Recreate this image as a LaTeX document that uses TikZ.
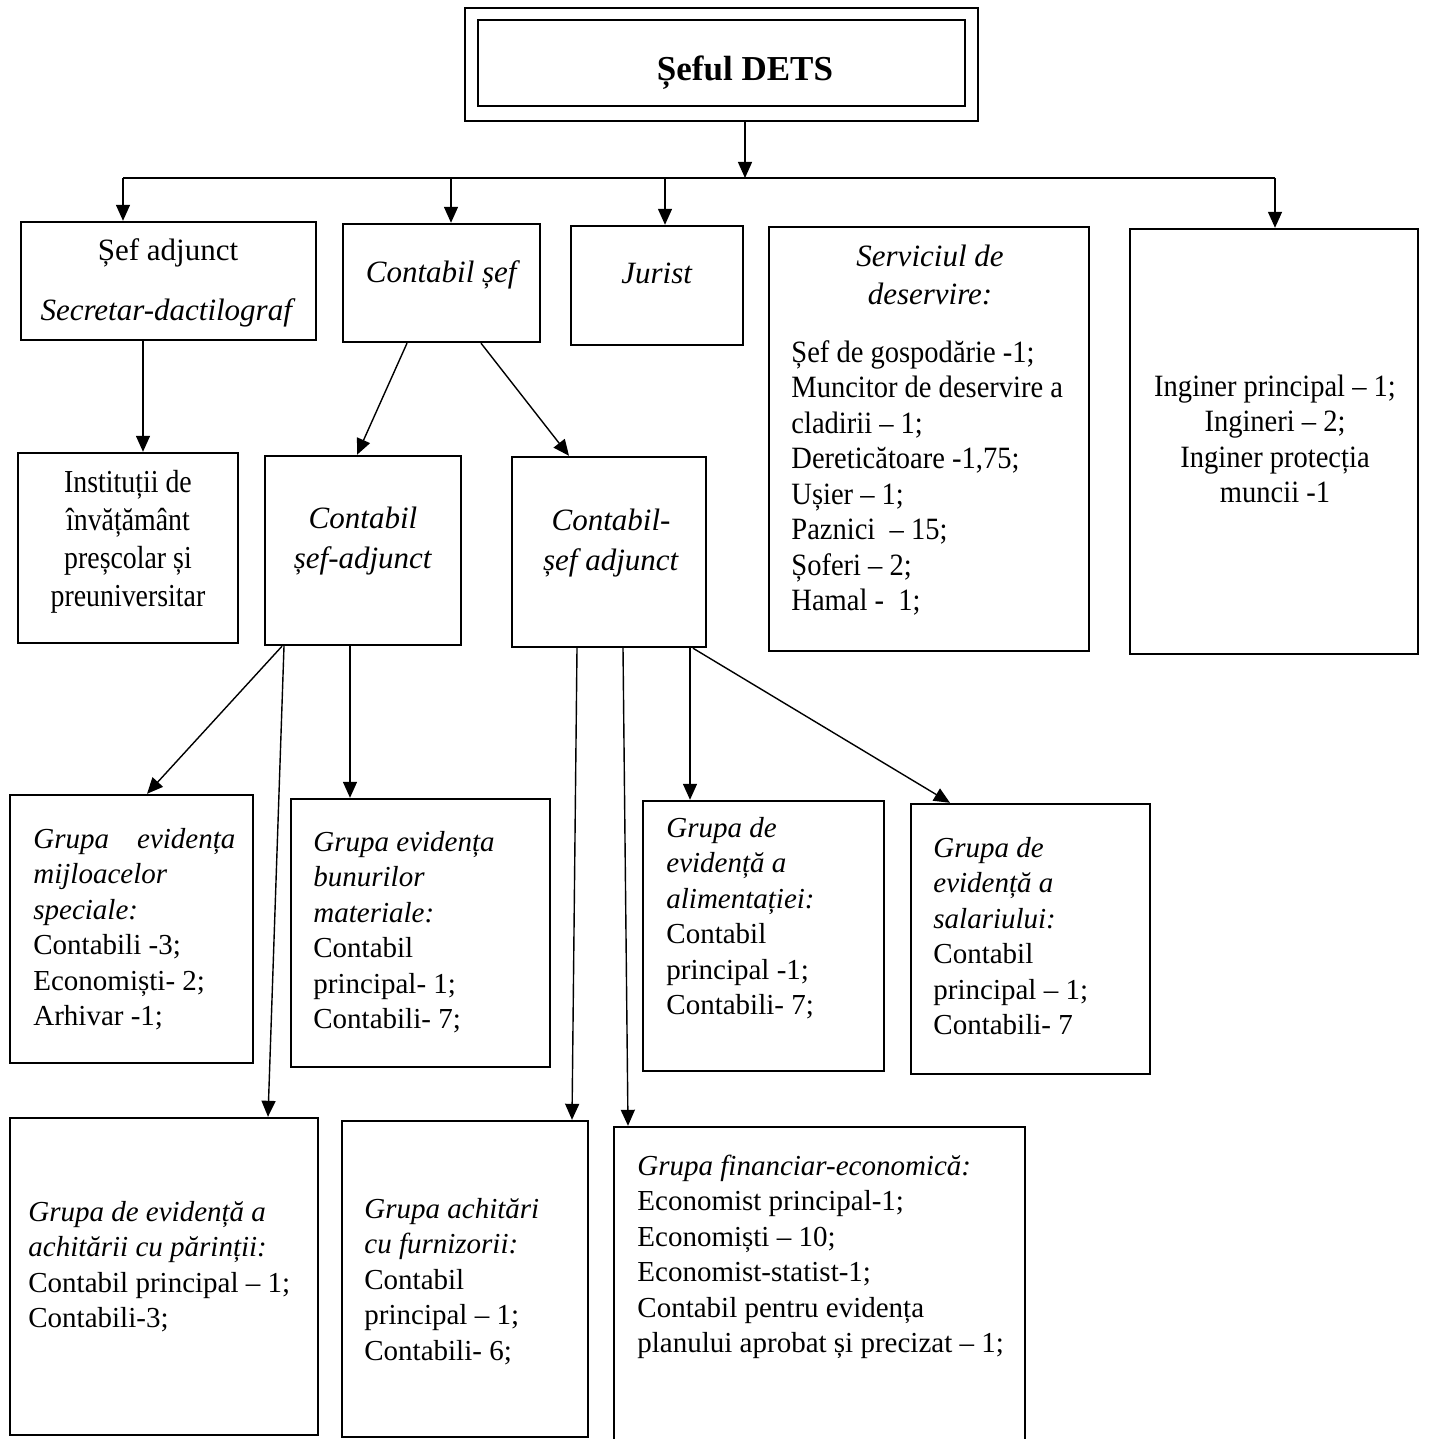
\documentclass[tikz,border=0pt]{standalone}
\usepackage{fontspec}
\setmainfont{Liberation Serif}
\newfontfamily\condf[FakeStretch=0.92]{Liberation Serif}
\newfontfamily\condg[FakeStretch=0.87]{Liberation Serif}
\usetikzlibrary{fit,arrows.meta}
\begin{document}
\begin{tikzpicture}[x=0.5pt,y=-0.5pt,
 box/.style={draw, line width=1.2pt, inner sep=0pt},
 arr/.style={line width=0.7pt, -{Triangle[length=8pt,width=7pt]}},
 ln/.style={line width=0.7pt},
 lt/.style={inner sep=0pt, anchor=north west, align=left, font=\fontsize{14.5}{17.75}\selectfont},
 ltc/.style={inner sep=0pt, anchor=north west, align=left, font=\condf\fontsize{15.5}{17.75}\selectfont},
 ctc/.style={inner sep=0pt, anchor=north, align=center, font=\condf\fontsize{15.5}{17.75}\selectfont},
 ctg/.style={inner sep=0pt, anchor=north, align=center, font=\condg\fontsize{16}{19}\selectfont},
 ctw/.style={inner sep=0pt, anchor=north, align=center, font=\fontsize{15.5}{19}\selectfont},
 cti/.style={inner sep=0pt, anchor=north, align=center, font=\fontsize{15.5}{20}\selectfont},
 one/.style={inner sep=0pt, anchor=base, font=\fontsize{15.5}{18}\selectfont},
]
\useasboundingbox (0,0) rectangle (1429,1439);
\fill[white] (0,0) rectangle (1429,1439);

% boxes
\node[box, fit={(465,8) (978,121)}] (dets) {};
\node[box, fit={(478,20) (965,106)}] (detsin) {};
\node[box, fit={(21,222) (316,340)}] (sefadj) {};
\node[box, fit={(343,224) (540,342)}] (cset) {};
\node[box, fit={(571,226) (743,345)}] (jurist) {};
\node[box, fit={(769,227) (1089,651)}] (serv) {};
\node[box, fit={(1130,229) (1418,654)}] (ing) {};
\node[box, fit={(18,453) (238,643)}] (inst) {};
\node[box, fit={(265,456) (461,645)}] (csa) {};
\node[box, fit={(512,457) (706,647)}] (csb) {};
\node[box, fit={(10,795) (253,1063)}] (gmij) {};
\node[box, fit={(291,799) (550,1067)}] (gbun) {};
\node[box, fit={(643,801) (884,1071)}] (gali) {};
\node[box, fit={(911,804) (1150,1074)}] (gsal) {};
\node[box, fit={(10,1118) (318,1435)}] (gpar) {};
\node[box, fit={(342,1121) (588,1437)}] (gfur) {};
\node[box, fit={(614,1127) (1025,1460)}] (gfin) {};

% texts
\node[inner sep=0pt, anchor=base, font=\fontsize{17.5}{20}\selectfont\bfseries] (tdets) at (745,81) {Șeful DETS};
\node[one] (tsef1) at (168,261) {Șef adjunct};
\node[one] (tsef2) at (168,320) {\textit{Secretar-dactilograf}};
\node[one] (tcset) at (443,282) {\textit{Contabil șef}};
\node[one] (tjur) at (657,283) {\textit{Jurist}};
\node[ctw] (tservh) at (930,239) {\strut\textit{Serviciul de}\\ \textit{deservire:}};
\node[ltc] (tserv) at (791,337) {\strut Șef de gospodărie -1;\\ Muncitor de deservire a\\ cladirii – 1;\\ Deretică­toare -1,75;\\ Ușier – 1;\\ Paznici \ – 15;\\ Șoferi – 2;\\ Hamal - \ 1;};
\node[ctc] (ting) at (1275,371) {\strut Inginer principal – 1;\\ Ingineri – 2;\\ Inginer protecția\\ muncii -1};
\node[ctg] (tinst) at (128,465) {\strut Instituții de\\ învățământ\\ preșcolar și\\ preuniversitar};
\node[cti] (tcsa) at (363,500) {\strut\textit{Contabil}\\ \textit{șef-adjunct}};
\node[cti] (tcsb) at (611,502) {\strut\textit{Contabil-}\\ \textit{șef adjunct}};

\node[lt] (tmij) at (33,823) {\strut\hbox to 101pt{\textit{Grupa}\hfill\textit{evidența}}\\ \textit{mijloacelor}\\ \textit{speciale:}\\ Contabili -3;\\ Economiști- 2;\\ Arhivar -1;};
\node[lt] (tbun) at (313,826) {\strut\textit{Grupa evidența}\\ \textit{bunurilor}\\ \textit{materiale:}\\ Contabil\\ principal- 1;\\ Contabili- 7;};
\node[lt] (tali) at (666,812) {\strut\textit{Grupa de}\\ \textit{evidență a}\\ \textit{alimentației:}\\ Contabil\\ principal -1;\\ Contabili- 7;};
\node[lt] (tsal) at (933,832) {\strut\textit{Grupa de}\\ \textit{evidență a}\\ \textit{salariului:}\\ Contabil\\ principal – 1;\\ Contabili- 7};
\node[lt] (tpar) at (28,1196) {\strut\textit{Grupa de evidență a}\\ \textit{achitării cu părinții:}\\ Contabil principal – 1;\\ Contabili-3;};
\node[lt] (tfur) at (364,1193) {\strut\textit{Grupa achitări}\\ \textit{cu furnizorii:}\\ Contabil\\ principal – 1;\\ Contabili- 6;};
\node[lt] (tfin) at (637,1150) {\strut\textit{Grupa financiar-economică:}\\ Economist principal-1;\\ Economiști – 10;\\ Economist-statist-1;\\ Contabil pentru evidența\\ planului aprobat și precizat – 1;};

% connectors
\coordinate (busL) at (123,178);
\coordinate (busB) at (451,178);
\coordinate (busJ) at (665,178);
\coordinate (busD) at (745,178);
\coordinate (busR) at (1275,178);
\draw[ln] (busL) -- (busR);
\draw[arr] (745,0 |- dets.south) -- (busD);
\draw[arr] (busL) -- (busL |- sefadj.north);
\draw[arr] (busB) -- (busB |- cset.north);
\draw[arr] (busJ) -- (busJ |- jurist.north);
\draw[arr] (busR) -- (busR |- ing.north);
\draw[arr] (143,0 |- sefadj.south) -- (143,0 |- inst.north);
\draw[arr] (407,0 |- cset.south) -- (357,0 |- csa.north);
\draw[arr] (481,0 |- cset.south) -- (569,0 |- csb.north);
\draw[arr] (282,0 |- csa.south) -- (147,0 |- gmij.north);
\draw[arr] (284,0 |- csa.south) -- (268,0 |- gpar.north);
\draw[arr] (350,0 |- csa.south) -- (350,0 |- gbun.north);
\draw[arr] (577,0 |- csb.south) -- (572,0 |- gfur.north);
\draw[arr] (623,0 |- csb.south) -- (628,0 |- gfin.north);
\draw[arr] (690,0 |- csb.south) -- (690,0 |- gali.north);
\draw[arr] (693,0 |- csb.south) -- (950,0 |- gsal.north);
\end{tikzpicture}
\end{document}
